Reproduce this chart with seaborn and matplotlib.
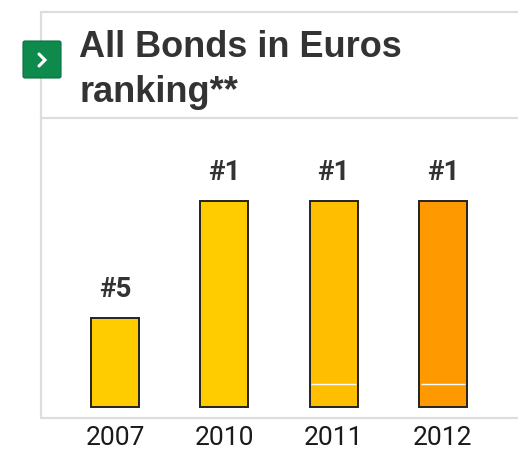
import matplotlib
matplotlib.use("Agg")
import matplotlib.pyplot as plt
from matplotlib.lines import Line2D
from matplotlib.patches import FancyBboxPatch
import pandas as pd
import seaborn as sns

# data
years = ["2007", "2010", "2011", "2012"]
ranks = ["#5", "#1", "#1", "#1"]
bar_height = [43, 100, 100, 100]          # visual bar height (rank 1 = 100)
split_at = [None, None, 11, 11]            # thin white divider inside bar
colors = ["#FFCC00", "#FFCC00", "#FFBF00", "#FF9900"]

df = pd.DataFrame({"year": years, "height": bar_height})

sns.set_style("white")
plt.rcParams["font.family"] = ["Liberation Sans", "DejaVu Sans"]

W, H = 518, 453
fig = plt.figure(figsize=(W / 100, H / 100), dpi=100)

def fx(px):
    return px / W

def fy(py):
    return 1 - py / H

# axes: panel area between y=118 and y=418, x from 41 to 518
ax = fig.add_axes([fx(41), fy(418), fx(518) - fx(41), fy(118) - fy(418)])
sns.barplot(data=df, x="year", y="height", hue="year", palette=colors,
            order=years, legend=False, width=0.44, ax=ax,
            edgecolor="#222222", linewidth=1.4, saturation=1)
ax.set_xlim(-0.677, 3.687)
ax.set_ylim(-5.3, 140.3)

for i, (v, lab, s) in enumerate(zip(bar_height, ranks, split_at)):
    ax.text(i, v + 14, lab, ha="center", va="center", fontsize=20,
            fontweight="bold", color="#333333", family=["Roboto", "DejaVu Sans"])
    if s is not None:
        ax.hlines(s, i - 0.205, i + 0.205, color="white", linewidth=1.0, zorder=5)

ax.set_xlabel("")
ax.set_ylabel("")
ax.set_yticks([])
ax.set_xticks(range(len(years)))
ax.set_xticklabels(years, fontsize=19, color="#1a1a1a",
                   family=["Roboto", "DejaVu Sans"])
ax.tick_params(axis="x", length=0, pad=6)
for sp in ax.spines.values():
    sp.set_visible(False)

# panel frame lines
lc = "#DDDDDD"
lw = 1.6
fig.add_artist(Line2D([fx(41), 1], [fy(12), fy(12)], color=lc, lw=lw))
fig.add_artist(Line2D([fx(41), 1], [fy(118), fy(118)], color=lc, lw=lw))
fig.add_artist(Line2D([fx(41), 1], [fy(418), fy(418)], color=lc, lw=lw))
fig.add_artist(Line2D([fx(41), fx(41)], [fy(12), fy(418)], color=lc, lw=lw))

# green chevron icon
icon = FancyBboxPatch((fx(23), fy(78)), fx(61) - fx(23), fy(41) - fy(78),
                      boxstyle="round,pad=0,rounding_size=0.004",
                      transform=fig.transFigure, facecolor="#0E8A4C",
                      edgecolor="#0A7040", linewidth=0.8, zorder=3)
fig.add_artist(icon)
fig.add_artist(Line2D([fx(39), fx(45), fx(39)], [fy(54), fy(60), fy(66)],
                      color="white", lw=2.2, solid_joinstyle="miter", zorder=4))

# title
fig.text(fx(79), fy(57), "All Bonds in Euros", ha="left", va="baseline",
         fontsize=26, fontweight="bold", color="#333333")
fig.text(fx(79), fy(102), "ranking**", ha="left", va="baseline",
         fontsize=26, fontweight="bold", color="#333333")

fig.savefig("out.png", dpi=100)
